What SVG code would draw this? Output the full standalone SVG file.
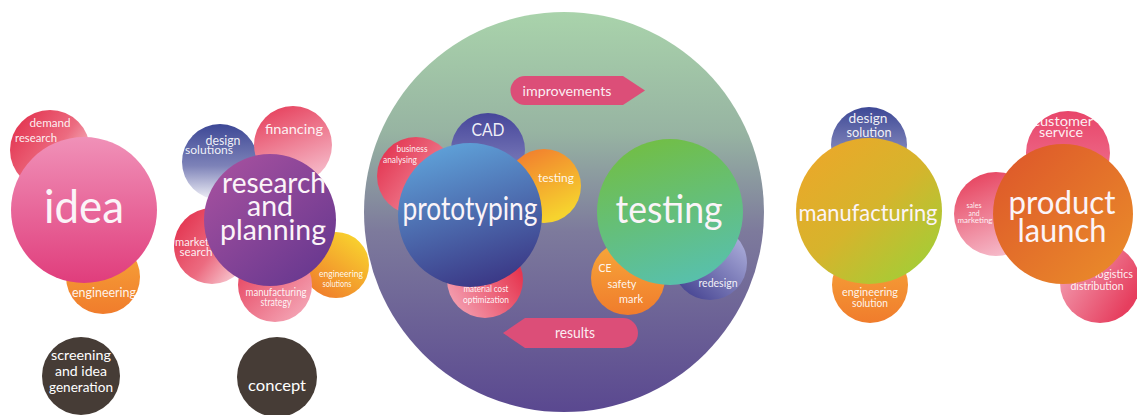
<svg xmlns="http://www.w3.org/2000/svg" width="1137" height="415" viewBox="0 0 1137 415">
  <style>
    text { font-family: "Lato", "Open Sans", sans-serif; fill: #ffffff; text-anchor: middle; }
    .big { fill: #fbf4f8; }
    .sm { fill: #ffffff; fill-opacity: 0.92; }
  </style>
  <defs>
    <linearGradient id="gIdea" x1="0" y1="0" x2="0" y2="1"><stop offset="0" stop-color="#f091b8"/><stop offset="1" stop-color="#e03d7c"/></linearGradient>
    <linearGradient id="gRed" x1="0.1" y1="0.2" x2="0.9" y2="0.8"><stop offset="0" stop-color="#e43a55"/><stop offset="0.55" stop-color="#ec6b80"/><stop offset="1" stop-color="#f7c6cf"/></linearGradient>
    <linearGradient id="gRedR" x1="0.9" y1="0.3" x2="0.1" y2="0.8"><stop offset="0" stop-color="#e63650"/><stop offset="1" stop-color="#f39aac"/></linearGradient>
    <linearGradient id="gOrange" x1="0" y1="0" x2="0" y2="1"><stop offset="0" stop-color="#f7a83a"/><stop offset="1" stop-color="#f07c2c"/></linearGradient>
    <linearGradient id="gOrangeY" x1="0.8" y1="0.1" x2="0.2" y2="0.9"><stop offset="0" stop-color="#f8cf2e"/><stop offset="1" stop-color="#f0802c"/></linearGradient>
    <linearGradient id="gOrangeY2" x1="0.2" y1="0.1" x2="0.6" y2="0.95"><stop offset="0" stop-color="#f2842e"/><stop offset="1" stop-color="#f6d32e"/></linearGradient>
    <linearGradient id="gPurple" x1="0.15" y1="0.1" x2="0.85" y2="0.9"><stop offset="0" stop-color="#a24f9e"/><stop offset="1" stop-color="#6a3990"/></linearGradient>
    <linearGradient id="gBlueFade" x1="0" y1="0" x2="0" y2="1"><stop offset="0" stop-color="#3d4896"/><stop offset="0.55" stop-color="#7d82b8"/><stop offset="1" stop-color="#f2f2f8"/></linearGradient>
    <linearGradient id="gBig" x1="0" y1="0" x2="0" y2="1"><stop offset="0" stop-color="#a9d3ab"/><stop offset="0.3" stop-color="#97b4a2"/><stop offset="0.55" stop-color="#7d7a9c"/><stop offset="1" stop-color="#5a4890"/></linearGradient>
    <linearGradient id="gProto" x1="0.3" y1="0" x2="0.6" y2="1"><stop offset="0" stop-color="#5fa2d9"/><stop offset="1" stop-color="#3b3886"/></linearGradient>
    <linearGradient id="gCAD" x1="0" y1="0" x2="0" y2="1"><stop offset="0" stop-color="#46469a"/><stop offset="1" stop-color="#8c8cc4"/></linearGradient>
    <linearGradient id="gTest" x1="0.3" y1="0" x2="0.6" y2="1"><stop offset="0" stop-color="#72be44"/><stop offset="1" stop-color="#58c0ac"/></linearGradient>
    <linearGradient id="gRedesign" x1="0.9" y1="0.1" x2="0.2" y2="0.9"><stop offset="0" stop-color="#aeb0dc"/><stop offset="1" stop-color="#4c4a96"/></linearGradient>
    <linearGradient id="gManuf" x1="0.15" y1="0.1" x2="0.85" y2="0.9"><stop offset="0" stop-color="#e9a92a"/><stop offset="0.5" stop-color="#d6b42c"/><stop offset="1" stop-color="#a6cc36"/></linearGradient>
    <linearGradient id="gLaunch" x1="0.1" y1="0.1" x2="0.9" y2="0.9"><stop offset="0" stop-color="#de5a2a"/><stop offset="1" stop-color="#e9892a"/></linearGradient>
    <linearGradient id="gPink" x1="0.1" y1="0.1" x2="0.9" y2="0.9"><stop offset="0" stop-color="#e6405c"/><stop offset="1" stop-color="#f4a6b6"/></linearGradient>
    <linearGradient id="gPinkDown" x1="0.2" y1="0" x2="0.6" y2="1"><stop offset="0" stop-color="#e6405c"/><stop offset="1" stop-color="#f6bccb"/></linearGradient>
    <linearGradient id="gPinkSoft" x1="0.5" y1="0" x2="0.5" y2="1"><stop offset="0" stop-color="#e8456a"/><stop offset="1" stop-color="#f07a95"/></linearGradient>
    <linearGradient id="gPinkRight" x1="0.1" y1="0.2" x2="0.9" y2="0.7"><stop offset="0" stop-color="#f29aae"/><stop offset="1" stop-color="#e63e5e"/></linearGradient>
  </defs>

  <!-- stage 1: idea -->
  <g id="demand-research">
    <circle cx="50" cy="150" r="40" fill="url(#gRed)"/>
    <text class="sm" x="50" y="127" font-size="12" textLength="41" lengthAdjust="spacingAndGlyphs">demand</text>
    <text class="sm" x="36" y="142" font-size="12" textLength="42" lengthAdjust="spacingAndGlyphs">research</text>
  </g>
  <g id="engineering">
    <circle cx="103" cy="277" r="37" fill="url(#gOrange)"/>
    <text class="sm" x="104" y="297" font-size="12.5" textLength="64" lengthAdjust="spacingAndGlyphs">engineering</text>
  </g>
  <g id="idea">
    <circle cx="84" cy="210" r="73" fill="url(#gIdea)"/>
    <text class="big" x="84" y="223" font-size="46" textLength="80" lengthAdjust="spacingAndGlyphs">idea</text>
  </g>
  <g id="screening">
    <circle cx="81" cy="376" r="39" fill="#463c36"/>
    <text x="81" y="360" font-size="14" textLength="60" lengthAdjust="spacingAndGlyphs">screening</text>
    <text x="81" y="376" font-size="14" textLength="52" lengthAdjust="spacingAndGlyphs">and idea</text>
    <text x="81" y="392" font-size="14" textLength="64" lengthAdjust="spacingAndGlyphs">generation</text>
  </g>

  <!-- stage 2: research and planning -->
  <g id="design-solutions">
    <circle cx="220" cy="162" r="38" fill="url(#gBlueFade)"/>
    <text class="sm" x="223" y="145" font-size="12.5" textLength="35" lengthAdjust="spacingAndGlyphs">design</text>
    <text class="sm" x="209" y="154" font-size="12" textLength="48" lengthAdjust="spacingAndGlyphs">solutions</text>
  </g>
  <g id="financing">
    <circle cx="293" cy="145" r="39" fill="url(#gPinkDown)"/>
    <text class="sm" x="294" y="134" font-size="14" textLength="58" lengthAdjust="spacingAndGlyphs">financing</text>
  </g>
  <g id="market-search">
    <circle cx="212" cy="246" r="38" fill="url(#gRed)"/>
    <text class="sm" x="192" y="246" font-size="11" textLength="34" lengthAdjust="spacingAndGlyphs">market</text>
    <text class="sm" x="196" y="256" font-size="11" textLength="33" lengthAdjust="spacingAndGlyphs">search</text>
  </g>
  <g id="engineering-solutions">
    <circle cx="336" cy="265" r="33" fill="url(#gOrangeY)"/>
    <text class="sm" x="341" y="277" font-size="9.5" textLength="44" lengthAdjust="spacingAndGlyphs">engineering</text>
    <text class="sm" x="337" y="287" font-size="9.5" textLength="29" lengthAdjust="spacingAndGlyphs">solutions</text>
  </g>
  <g id="manufacturing-strategy">
    <circle cx="275" cy="285" r="37" fill="url(#gPink)"/>
    <text class="sm" x="276" y="296" font-size="10.5" textLength="61" lengthAdjust="spacingAndGlyphs">manufacturing</text>
    <text class="sm" x="276" y="306" font-size="10.5" textLength="31" lengthAdjust="spacingAndGlyphs">strategy</text>
  </g>
  <g id="research-and-planning">
    <circle cx="270" cy="220" r="66" fill="url(#gPurple)"/>
    <text class="big" x="274" y="193" font-size="29" textLength="104" lengthAdjust="spacingAndGlyphs">research</text>
    <text class="big" x="270" y="216" font-size="29" textLength="46" lengthAdjust="spacingAndGlyphs">and</text>
    <text class="big" x="273" y="240" font-size="29" textLength="106" lengthAdjust="spacingAndGlyphs">planning</text>
  </g>
  <g id="concept">
    <circle cx="277" cy="377" r="40" fill="#463c36"/>
    <text x="277" y="391" font-size="16" textLength="58" lengthAdjust="spacingAndGlyphs">concept</text>
  </g>

  <!-- stage 3: prototyping / testing loop -->
  <g id="loop">
    <circle cx="564" cy="212" r="200" fill="url(#gBig)"/>
  </g>
  <g id="connectors">
    <path d="M525 76 H623 L645 90.5 L623 105 H525 A14.5 14.5 0 0 1 525 76 Z" fill="#dc4e78"/>
    <text class="sm" x="567" y="96" font-size="14" textLength="89" lengthAdjust="spacingAndGlyphs">improvements</text>
    <path d="M623 318 H525 L503 333 L525 348 H623 A15 15 0 0 0 623 318 Z" fill="#dc4e78"/>
    <text class="sm" x="575" y="338" font-size="15" textLength="40" lengthAdjust="spacingAndGlyphs">results</text>
  </g>
  <g id="cad">
    <circle cx="488" cy="150" r="37" fill="url(#gCAD)"/>
    <text class="sm" x="488" y="136" font-size="17" textLength="33" lengthAdjust="spacingAndGlyphs">CAD</text>
  </g>
  <g id="business-analysing">
    <circle cx="416" cy="176" r="39" fill="url(#gRed)"/>
    <text class="sm" x="412" y="152" font-size="9" textLength="31" lengthAdjust="spacingAndGlyphs">business</text>
    <text class="sm" x="400" y="163" font-size="9" textLength="34" lengthAdjust="spacingAndGlyphs">analysing</text>
  </g>
  <g id="testing-check">
    <circle cx="544" cy="186" r="37" fill="url(#gOrangeY2)"/>
    <text class="sm" x="556" y="182" font-size="10.5" textLength="36" lengthAdjust="spacingAndGlyphs">testing</text>
  </g>
  <g id="material-cost">
    <circle cx="485" cy="280" r="38" fill="url(#gRedR)"/>
    <text class="sm" x="486" y="292" font-size="8.5" textLength="45" lengthAdjust="spacingAndGlyphs">material cost</text>
    <text class="sm" x="486" y="303" font-size="8.5" textLength="46" lengthAdjust="spacingAndGlyphs">optimization</text>
  </g>
  <g id="prototyping">
    <circle cx="470" cy="215" r="72" fill="url(#gProto)"/>
    <text class="big" x="470" y="220" font-size="32" textLength="135" lengthAdjust="spacingAndGlyphs">prototyping</text>
  </g>
  <g id="ce-safety-mark">
    <circle cx="628" cy="278" r="37" fill="url(#gOrange)"/>
    <text class="sm" x="605" y="272" font-size="12" textLength="13" lengthAdjust="spacingAndGlyphs">CE</text>
    <text class="sm" x="622" y="288" font-size="12" textLength="29" lengthAdjust="spacingAndGlyphs">safety</text>
    <text class="sm" x="631" y="303" font-size="12" textLength="24" lengthAdjust="spacingAndGlyphs">mark</text>
  </g>
  <g id="redesign">
    <circle cx="710" cy="263" r="37" fill="url(#gRedesign)"/>
    <text class="sm" x="718" y="287" font-size="11" textLength="39" lengthAdjust="spacingAndGlyphs">redesign</text>
  </g>
  <g id="testing">
    <circle cx="670" cy="212" r="73" fill="url(#gTest)"/>
    <text class="big" x="669" y="223" font-size="38" textLength="107" lengthAdjust="spacingAndGlyphs">testing</text>
  </g>

  <!-- stage 4: manufacturing -->
  <g id="design-solution">
    <circle cx="869" cy="145" r="38" fill="url(#gBlueFade)"/>
    <text class="sm" x="868" y="123" font-size="13" textLength="39" lengthAdjust="spacingAndGlyphs">design</text>
    <text class="sm" x="869" y="137" font-size="13" textLength="45" lengthAdjust="spacingAndGlyphs">solution</text>
  </g>
  <g id="engineering-solution">
    <circle cx="870" cy="285" r="38" fill="url(#gOrange)"/>
    <text class="sm" x="870" y="296" font-size="11" textLength="56" lengthAdjust="spacingAndGlyphs">engineering</text>
    <text class="sm" x="870" y="307" font-size="11" textLength="36" lengthAdjust="spacingAndGlyphs">solution</text>
  </g>
  <g id="manufacturing">
    <circle cx="869" cy="211" r="73" fill="url(#gManuf)"/>
    <text class="big" x="868" y="221" font-size="24" textLength="139" lengthAdjust="spacingAndGlyphs">manufacturing</text>
  </g>

  <!-- stage 5: product launch -->
  <g id="customer-service">
    <circle cx="1068" cy="153" r="42" fill="url(#gPinkSoft)"/>
    <text class="sm" x="1063" y="126" font-size="14" textLength="60" lengthAdjust="spacingAndGlyphs">customer</text>
    <text class="sm" x="1061" y="137" font-size="14" textLength="44" lengthAdjust="spacingAndGlyphs">service</text>
  </g>
  <g id="sales-and-marketing">
    <circle cx="996" cy="214" r="42" fill="url(#gPinkDown)"/>
    <text class="sm" x="974" y="208" font-size="7" textLength="15" lengthAdjust="spacingAndGlyphs">sales</text>
    <text class="sm" x="974" y="215.5" font-size="7" textLength="11" lengthAdjust="spacingAndGlyphs">and</text>
    <text class="sm" x="975" y="223" font-size="7" textLength="35" lengthAdjust="spacingAndGlyphs">marketing</text>
  </g>
  <g id="logistics-distribution">
    <circle cx="1100" cy="283" r="40" fill="url(#gPinkRight)"/>
    <text class="sm" x="1114" y="278" font-size="12" textLength="38" lengthAdjust="spacingAndGlyphs">logistics</text>
    <text class="sm" x="1097" y="290" font-size="12" textLength="53" lengthAdjust="spacingAndGlyphs">distribution</text>
  </g>
  <g id="product-launch">
    <circle cx="1063" cy="214" r="70" fill="url(#gLaunch)"/>
    <text class="big" x="1062" y="214" font-size="33" textLength="107" lengthAdjust="spacingAndGlyphs">product</text>
    <text class="big" x="1062" y="242" font-size="33" textLength="89" lengthAdjust="spacingAndGlyphs">launch</text>
  </g>
</svg>
